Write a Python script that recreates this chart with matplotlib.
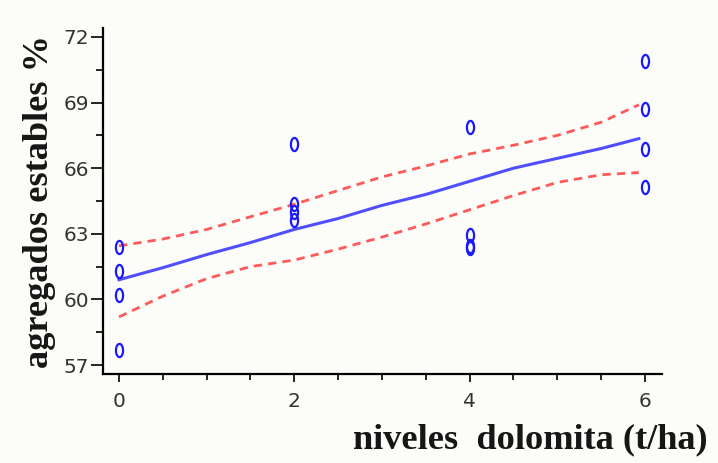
import matplotlib
matplotlib.use("Agg")
import matplotlib.pyplot as plt
from matplotlib.path import Path
import numpy as np

# observed data: dolomite level (t/ha) and stable aggregates (%)
dose_levels = [0, 0, 0, 0, 2, 2, 2, 2, 4, 4, 4, 4, 6, 6, 6, 6]
stable_aggr = [62.4, 61.3, 60.2, 57.7,
               67.1, 64.35, 64.0, 63.65,
               67.9, 62.95, 62.45, 62.35,
               70.9, 68.7, 66.9, 65.15]

# fitted line and confidence band
fit_x = [0, 0.5, 1.0, 1.5, 2.0, 2.5, 3.0, 3.5, 4.0, 4.5, 5.0, 5.5, 5.93]
fit_y = [60.9, 61.45, 62.05, 62.6, 63.2, 63.7, 64.3, 64.8, 65.4, 66.0, 66.45, 66.9, 67.35]
upper_y = [62.45, 62.76, 63.2, 63.78, 64.35, 64.98, 65.6, 66.1, 66.65, 67.05, 67.5, 68.1, 68.9]
lower_y = [59.2, 60.15, 60.95, 61.5, 61.8, 62.3, 62.85, 63.45, 64.1, 64.75, 65.35, 65.7, 65.8]

x_ticks = [0, 2, 4, 6]
y_ticks = [57, 60, 63, 66, 69, 72]

# tall oval marker shape (like the letter "0")
t = np.linspace(0, 2*np.pi, 41)
oval = Path(np.column_stack([0.27*np.cos(t), 0.5*np.sin(t)]), closed=True)

fig = plt.figure(figsize=(7.18, 4.63), dpi=100, facecolor="#fcfcf8")
ax = fig.add_axes([103/718, 1-374/463, (662-103)/718, (374-28)/463])
ax.set_facecolor("#fcfcf8")

ax.plot(fit_x, upper_y, color="#ff4848", lw=2.0, ls=(0, (3, 2.2)), alpha=0.9)
ax.plot(fit_x, lower_y, color="#ff4848", lw=2.0, ls=(0, (3, 2.2)), alpha=0.9)
ax.plot(fit_x, fit_y, color="#3c3cff", lw=2.2, alpha=0.9)
ax.plot(dose_levels, stable_aggr, ls="none", marker=oval, ms=9.5,
        mfc="none", mec="#1a1aff", mew=1.6)

ax.set_xlim(-0.1825, 6.194)
ax.set_ylim(56.59, 72.41)
ax.set_xticks(x_ticks)
ax.set_yticks(y_ticks)
ax.set_xticks(np.arange(0, 6.01, 0.5), minor=True)
ax.set_yticks(np.arange(57, 72.01, 1.5), minor=True)

for s in ["top", "right"]:
    ax.spines[s].set_visible(False)
for s in ["left", "bottom"]:
    ax.spines[s].set_linewidth(1.6)
    ax.spines[s].set_color("black")

ax.tick_params(axis="y", which="major", length=9, width=1.2, labelsize=14.5,
               labelcolor="#333333", pad=1)
ax.tick_params(axis="y", which="minor", length=5, width=1.2)
ax.tick_params(axis="x", which="major", length=6, width=1.2, labelsize=14.5,
               labelcolor="#333333", pad=7)
ax.tick_params(axis="x", which="minor", length=4, width=1.2)

fig.text(708/718, 1-440/463, "niveles  dolomita (t/ha)", ha="right", va="center",
         family="Liberation Serif", fontsize=26.2, fontweight="bold", color="#161616")
fig.text(40/718, 1-201/463, "agregados estables %", ha="center", va="center",
         rotation=90, family="Liberation Serif", fontsize=26.2, fontweight="bold",
         color="#161616")

fig.savefig("out.png", dpi=100, facecolor=fig.get_facecolor())
